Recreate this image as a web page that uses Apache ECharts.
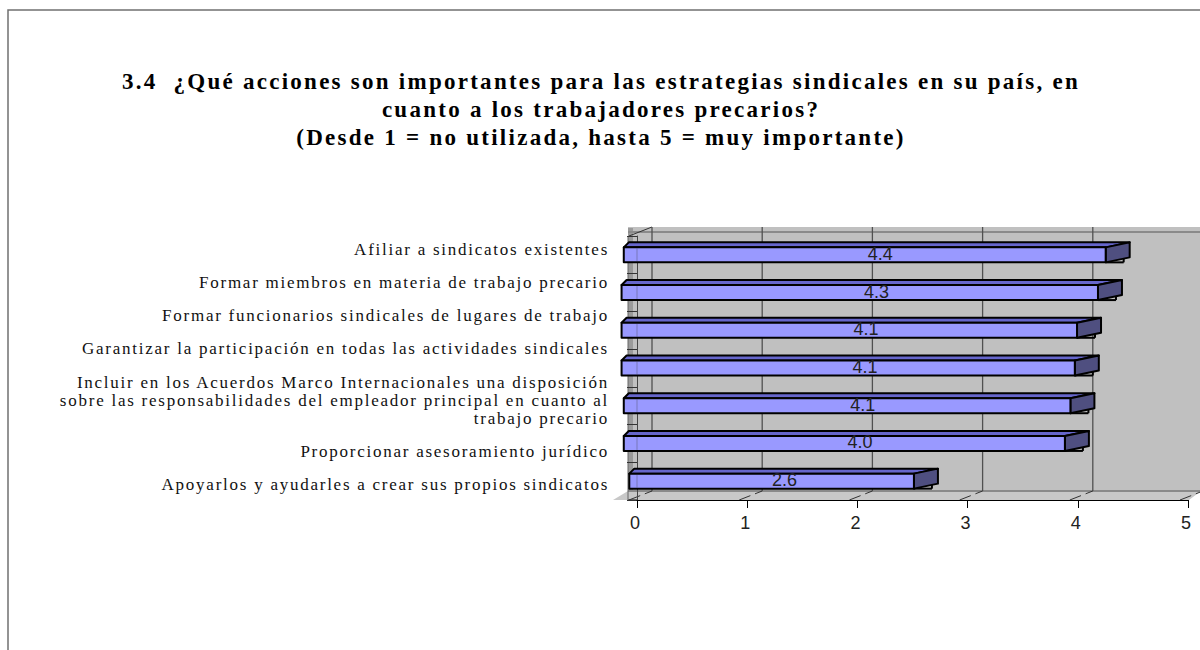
<!DOCTYPE html>
<html>
<head>
<meta charset="utf-8">
<title>3.4</title>
<script src="https://cdn.jsdelivr.net/npm/echarts@6/dist/echarts.min.js"></script>
<style>
  html, body { margin: 0; padding: 0; background: #fff; }
  #chart { width: 1200px; height: 650px; overflow: hidden; }
  /* the original has very loose text spacing */
  #chart text[style*="Serif"] { letter-spacing: 1.75px; }
  #chart text[style*="bold"] { letter-spacing: 2.26px; }
</style>
</head>
<body>
<div id="chart"></div>
<script>
const chartTitle = '3.4  ¿Qué acciones son importantes para las estrategias sindicales en su país, en\ncuanto a los trabajadores precarios?\n(Desde 1 = no utilizada, hasta 5 = muy importante)'
const categories = [
  'Afiliar a sindicatos existentes',
  'Formar miembros en materia de trabajo precario',
  'Formar funcionarios sindicales de lugares de trabajo',
  'Garantizar la participación en todas las actividades sindicales',
  'Incluir en los Acuerdos Marco Internacionales una disposición\nsobre las responsabilidades del empleador principal en cuanto al\ntrabajo precario',
  'Proporcionar asesoramiento jurídico',
  'Apoyarlos y ayudarles a crear sus propios sindicatos'
]
const values = [4.38, 4.31, 4.12, 4.1, 4.06, 4.01, 2.64]
// where each bar's left end lands on the axis
const barStarts = [-0.12, -0.14, -0.14, -0.14, -0.12, -0.12, -0.07]
const xTicks = [0, 1, 2, 3, 4, 5]

const depthX = 15
const depthY = 9
const frontShift = -14
const labelLine = 18
const labelGap = 15.3

const myChart = echarts.init(document.getElementById('chart'), null, { renderer: 'svg' })

function renderWall(params, api) {
  const p0 = api.coord([0, 0])
  const left = p0[0] - 9
  const bottom = params.coordSys.y + params.coordSys.height
  const top = params.coordSys.y
  const right = 1201
  return {
    type: 'group',
    children: [
      { type: 'rect', shape: { x: left, y: top - depthY, width: right - left, height: bottom - top }, style: { fill: '#c0c0c0' } },
      { type: 'rect', shape: { x: left, y: top - depthY + 1, width: 5, height: bottom - top - 1 }, style: { fill: '#9a9a9a' } },
      { type: 'line', shape: { x1: left, y1: top - depthY + 5, x2: right, y2: top - depthY + 5 }, style: { stroke: '#8a8a8a', lineWidth: 2 } },
      { type: 'polygon', shape: { points: [[left - 15, bottom], [left, bottom - depthY], [right, bottom - depthY], [right - 12, bottom]] }, style: { fill: '#c8c8c8' } },
      { type: 'line', shape: { x1: left, y1: bottom - depthY, x2: right, y2: bottom - depthY }, style: { stroke: '#8a8a8a', lineWidth: 2 } },
      { type: 'line', shape: { x1: left, y1: bottom, x2: p0[0], y2: bottom }, style: { stroke: '#000', lineWidth: 1 } },
      { type: 'line', shape: { x1: left + 1, y1: top, x2: p0[0] + depthX, y2: top - depthY }, style: { stroke: '#333', lineWidth: 1 } },
      { type: 'line', shape: { x1: left, y1: top + 1, x2: left, y2: bottom }, style: { stroke: '#666', lineWidth: 1 } }
    ]
  }
}

function renderGridLine(params, api) {
  const x = api.coord([api.value(0), 0])[0]
  const bottom = params.coordSys.y + params.coordSys.height
  const top = params.coordSys.y
  return {
    type: 'group',
    children: [
      { type: 'line', shape: { x1: x + depthX, y1: top - depthY, x2: x + depthX, y2: bottom - depthY }, style: { stroke: '#505050', lineWidth: 1.3 } },
      { type: 'line', shape: { x1: x - 8, y1: bottom, x2: x + depthX, y2: bottom - depthY }, style: { stroke: '#333', lineWidth: 1, lineDash: [12, 5] } }
    ]
  }
}

function renderBar(params, api) {
  const v = api.value(0)
  const yc = api.coord([0, api.value(1)])[1]
  const x0 = api.coord([api.value(2), 0])[0]
  const x1 = api.coord([v, 0])[0] + frontShift
  const axisX = api.coord([0, 0])[0]
  const h = 15
  const yTop = yc - h / 2
  const yBot = yc + h / 2
  const edge = { stroke: '#000', lineWidth: 2, lineJoin: 'round' }
  const labelX = (axisX + frontShift + x1) / 2 + 16
  return {
    type: 'group',
    children: [
      { type: 'line', shape: { x1: x1, y1: yBot, x2: x1 + 18, y2: yBot }, style: edge },
      { type: 'line', shape: { x1: x1 + 18, y1: yBot, x2: x1 + 18, y2: yBot - 4 }, style: edge },
      { type: 'polygon', shape: { points: [[x0, yTop], [x0 + 5, yTop - 5], [x1 + 24, yTop - 5], [x1, yTop]] }, style: { fill: '#6666cc', ...edge } },
      { type: 'polygon', shape: { points: [[x1, yTop], [x1 + 24, yTop - 5], [x1 + 24, yBot - 5], [x1, yBot]] }, style: { fill: '#4f4f80', ...edge } },
      { type: 'rect', shape: { x: x0, y: yTop, width: x1 - x0, height: h }, style: { fill: '#9999ff', ...edge } },
      { type: 'line', shape: { x1: axisX, y1: yTop + 1, x2: axisX, y2: yBot - 1 }, style: { stroke: 'rgba(60,60,60,0.35)', lineWidth: 1 } },
      {
        type: 'text',
        style: {
          x: labelX,
          y: yc - 1,
          text: v.toFixed(1),
          fill: '#222',
          fontFamily: 'Liberation Sans',
          fontSize: 18,
          align: 'center',
          verticalAlign: 'middle'
        }
      }
    ]
  }
}

// category labels are stacked by their line count, like the original, not centred on the bars
function renderCategoryLabel(params, api) {
  const i = api.value(0)
  let y = params.coordSys.y + 4
  for (let k = 0; k < i; k++) {
    y += categories[k].split('\n').length * labelLine + labelGap
  }
  const lines = categories[i].split('\n').length
  return {
    type: 'text',
    style: {
      x: api.coord([0, 0])[0] - 28,
      y: y + lines * labelLine / 2,
      text: categories[i],
      fill: '#111',
      fontFamily: 'Liberation Serif',
      fontSize: 17,
      lineHeight: labelLine,
      align: 'right',
      verticalAlign: 'middle'
    }
  }
}

const option = {
  animation: false,
  backgroundColor: '#ffffff',
  title: {
    text: chartTitle,
    left: 596,
    top: 62,
    textAlign: 'center',
    textStyle: {
      color: '#000',
      fontFamily: 'Liberation Serif',
      fontWeight: 'bold',
      fontSize: 23,
      lineHeight: 28
    }
  },
  graphic: [
    {
      type: 'rect',
      silent: true,
      shape: { x: 8, y: 10, width: 1300, height: 800 },
      style: { fill: 'none', stroke: '#707070', lineWidth: 1.5 }
    }
  ],
  grid: { left: 637, top: 236, width: 551, height: 264 },
  xAxis: {
    type: 'value',
    min: 0,
    max: 5,
    interval: 1,
    z: 5,
    splitLine: { show: false },
    axisLine: { show: true, onZero: false, lineStyle: { color: '#000', width: 1 } },
    axisTick: { show: true, length: 8, lineStyle: { color: '#000' } },
    axisLabel: {
      margin: 14,
      color: '#222',
      fontFamily: 'Liberation Sans',
      fontSize: 18,
      padding: [0, 4, 0, 0],
      formatter: function (value) {
        return xTicks[value]
      }
    }
  },
  yAxis: {
    type: 'category',
    inverse: true,
    data: categories,
    z: 2,
    axisLine: { show: true, onZero: false, lineStyle: { color: '#444', width: 1 } },
    axisTick: { show: true, length: 10, lineStyle: { color: '#333' } },
    axisLabel: { show: false }
  },
  series: [
    { type: 'custom', name: 'wall', z: 1, silent: true, renderItem: renderWall, data: [[0, 0]] },
    { type: 'custom', name: 'grid', z: 1, silent: true, renderItem: renderGridLine, data: xTicks.map(t => [t, 0]) },
    { type: 'custom', name: 'labels', z: 1, silent: true, renderItem: renderCategoryLabel, data: categories.map((c, i) => [i]) },
    {
      type: 'custom',
      name: 'media',
      z: 3,
      renderItem: renderBar,
      encode: { x: 0, y: 1 },
      data: values.map((v, i) => [v, i, barStarts[i]])
    }
  ]
}

myChart.setOption(option)
</script>
</body>
</html>
